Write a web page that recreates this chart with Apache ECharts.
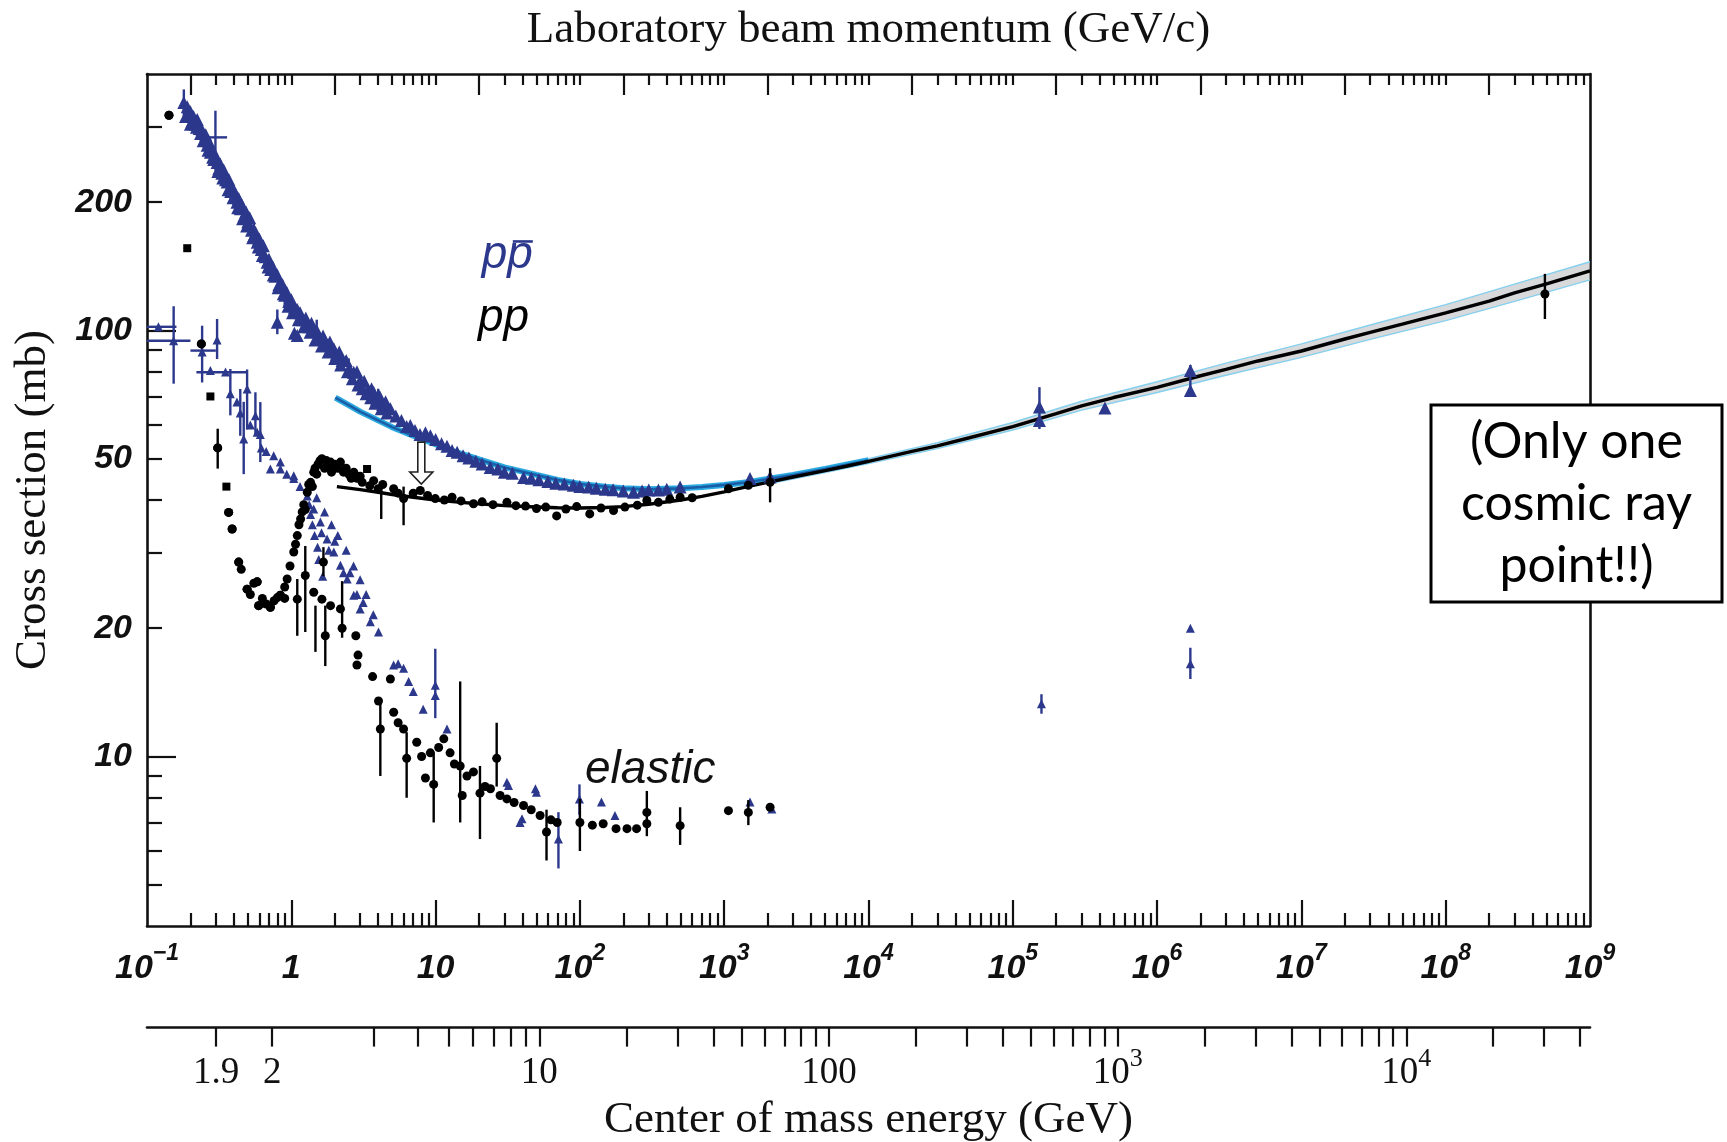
<!DOCTYPE html>
<html><head><meta charset="utf-8">
<script src="https://cdn.jsdelivr.net/npm/echarts@6/dist/echarts.min.js"></script>
<style>html,body{margin:0;padding:0;background:#fff}#chart{width:1727px;height:1142px}</style>
</head><body><div id="chart"></div>
<script>
// ---------------- DATA (p_lab in GeV/c, sigma in mb) ----------------
const ppbarTotal = [
 [0.18,343],[0.19,335],[0.195,320],[0.2,326],[0.205,310],[0.21,318],[0.215,305],[0.223,313],[0.23,298],[0.235,290],
 [0.24,296],[0.25,282],[0.255,288],[0.261,272],[0.268,278],[0.275,262],[0.283,266],[0.29,252],[0.298,258],[0.306,248],
 [0.315,240],[0.322,246],[0.33,234],[0.34,238],[0.35,226],[0.359,223],[0.37,226],[0.38,212],[0.39,216],[0.4,206],
 [0.41,210],[0.42,200],[0.432,204],[0.444,193],[0.455,197],[0.47,186],[0.485,190],[0.5,180],[0.515,184],[0.53,172],
 [0.55,167],[0.565,170],[0.58,161],[0.6,164],[0.62,155],[0.64,158],[0.66,149],[0.68,144.5],[0.7,147],[0.72,139],
 [0.745,141],[0.77,134],[0.8,135],[0.82,128],[0.84,127],[0.87,128],[0.9,121],[0.93,123],[0.96,117],[1.0,118],
 [1.05,113],[1.1,112],[1.15,110],[1.2,106],[1.26,107],[1.32,102],[1.38,104],[1.43,100.8],[1.5,100],[1.58,96],
 [1.66,97],[1.75,93],[1.85,94],[1.97,90.6],[2.05,88],[2.15,89],[2.25,85],[2.4,85],[2.55,81],[2.71,79.8],
 [2.85,80],[3.0,76],[3.2,76],[3.4,72.5],[3.6,73],[3.72,71.6],[3.9,69],[4.1,70],[4.3,67],[4.5,68],[4.86,65.5],
 [0.185,318],[0.2,305],[0.22,300],[0.245,279],[0.265,265],[0.285,255],[0.31,236],[0.335,228],[0.365,214],[0.395,205],
 [0.425,194],[0.46,183],[0.49,176],[0.54,165],[0.59,157],[0.63,150],[0.69,141],[0.75,135],[0.81,126],[0.88,122],
 [0.95,114],[1.02,110],[1.12,106],[1.22,102],[1.35,99],[1.46,95],[1.62,92],[1.8,89],[2.0,86],[2.2,83],
 [2.45,80],[2.65,77],[2.9,74.5],[3.1,73],[3.3,71],[3.55,69.5],[3.8,67.5],[4.2,65.5],[4.6,64],
 [5.3,63],[5.8,61.5],[6.3,59.5],[6.68,59.8],[7.2,58.2],[7.8,57],[8.5,57.5],[9.2,56.6],[10,55.5],[11,54.2],
 [12,53.5],[13,52.3],[14.1,51.8],[15.5,50.8],[17,50.2],[19,49.3],[21,48.6],[23.9,47.7],[27,47.3],[30,46.5],
 [34,46.2],[40.7,45.2],[46,45],[52,44.6],[60,44.2],[68,43.8],[78,43.6],[90,43.3],[100,43],[115,42.9],
 [130,42.6],[150,42.4],[170,42.3],[200,42],[235,41.7],[270,42],[300,42.2],[350,42.2],[400,42.4],[495,42.9],
 [1510,44.9],[2080,45.3],
 [0.8,104.5],[1.05,98.5],[1.1,97.3],
 [1.53e5,66.1],[1.53e5,61.5],[4.35e5,65.8],[1.7e6,80.5],[1.7e6,72.3]
];
const ppbarTotalErr = [[0.18,313,368],[0.298,248,328],[0.26,255,290],[0.4,195,218],[0.55,158,178],[0.9,114,128],
 [1.5,94,106],[2.5,77,86],[4.0,65,73],[0.8,98,112],[1.53e5,58.7,73.6],[1.7e6,70,83]];
const ppbarTotalXErr = [[0.254,0.359,284]];

const ppTotal = [
 [0.142,320],[0.238,93],[0.309,53],[0.368,37.4],[0.389,34.2],[0.432,28.6],[0.45,27.5],[0.494,24.7],[0.52,24],
 [0.55,25.5],[0.58,25.7],[0.594,22.6],[0.63,23.5],[0.67,22.8],[0.716,22.4],[0.76,23.2],[0.8,23.6],[0.84,23.9],
 [0.9,25],[0.936,26.1],[0.98,28],[1.04,30.2],[1.1,33],[1.16,36.1],[1.22,39],[1.25,38],[1.29,41.7],[1.36,44],
 [1.4,43],[1.43,46.5],[1.5,46],[1.53,48.5],[1.63,50],[1.7,47.5],[1.75,49.5],[1.87,49.1],[1.9,46.5],[2.0,48.5],
 [2.19,49.1],[2.3,46.5],[2.4,47.5],[2.6,45],[2.71,46.5],[3.0,45.5],[3.1,44],[3.5,43.2],[3.72,44.4],[4.0,42.5],
 [1.07,31.5],[1.13,35],[1.19,37.5],[1.32,43.5],[1.46,47.5],[1.58,49.5],[1.8,48],[2.1,47.5],[2.5,46],[2.85,45],
 [4.3,43.5],[5.12,42.5],[5.5,41.5],[6.0,40.3],[7.0,41.5],[7.83,42.1],[8.8,41],[9.95,40.3],[11.5,40],[13,40.6],
 [15,39.8],[18.3,39.2],[21,39.6],[25,39],[31.2,39.5],[36,38.8],[42,38.7],[50,38.2],[58,38.5],[69,36.7],
 [80,38.1],[95,38.6],[117,37.1],[140,38.3],[171,37.8],[205,38.5],[250,38.9],[291,39.9],[350,39.5],[420,40.2],
 [495,40.6],[600,40.5],[1070,42.5],[1470,43.3],[2080,44],
 [4.87e8,121.8]
];
const ppTotalSquares = [[0.19,156],[0.275,70],[0.355,43],[3.35,47.3]];
const ppTotalErr = [[0.309,47.4,58.8],[4.2,36.1,43.3],[6.0,34.9,43],[2080,39.5,47.5],[4.87e8,106.4,135.8]];

const ppbarElastic = [
 [0.12,102],[0.153,94.6],[0.241,89],[0.275,80.5],[0.306,95],[0.35,79.9],[0.378,71],[0.42,67.9],[0.443,64],[0.468,55.6],
 [0.494,72.9],[0.52,60],[0.564,63.1],[0.58,57.7],[0.61,57],[0.62,53],[0.67,52],[0.716,47.3],[0.755,50.8],[0.84,49.1],
 [0.84,47.3],[0.93,46],[1.04,45.6],[1.04,44.9],[1.15,43],[1.29,40.9],[1.36,37],[1.43,38.1],[1.45,33],[1.5,40.5],
 [1.55,29],[1.59,35.5],[1.65,26.5],[1.7,37.5],[1.77,32.4],[1.9,35],[1.97,30.2],[2.1,33],[2.19,28.1],[2.4,30.5],
 [2.44,26.1],[2.7,28],[2.71,23.9],[3.0,26],[3.0,22.2],[3.3,24],[3.53,20.7],[4.02,19.6],
 [1.33,39],[1.4,35],[1.52,31],[1.62,33.5],[1.82,30.5],[2.0,32],[2.3,27],[2.55,27],[2.85,24],[3.15,23],[3.7,21.5],
 [5.12,16.4],[5.5,16.5],[6.0,16.1],[6.5,15],[7.0,14.2],[8.2,12.9],[9.95,14.7],[9.95,13.9],[12.0,11.6],
 [31.2,8.7],[32,8.55],[38.5,7.0],[39.7,7.14],[49.2,8.4],[50,8.24],[71,6.4],[99.3,7.95],[141,7.82],[175,7.27],
 [1510,7.82],[2140,7.53],
 [1.58e5,13.3],[1.7e6,20],[1.7e6,16.5]
];
const ppbarElasticErr = [[0.153,75,114],[0.241,75.5,102.6],[0.306,85.7,106.4],[0.378,63.2,81.2],[0.443,56.6,72.9],
 [0.494,58.6,81],[0.468,46,68],[0.564,56.6,71.6],[0.61,49.1,67.9],[9.95,12.3,17.9],
 [71,5.46,7.4],[99.3,7.3,8.6],[1.58e5,12.6,14.0],[1.7e6,15.2,18]];
const ppbarElasticXErr = [[0.1,0.16,102],[0.1,0.2,94.6],[0.2,0.3,89.7],[0.22,0.49,79.8]];

const ppElastic = [
 [0.142,320],[0.238,93],[0.309,53],[0.368,37.4],[0.389,34.2],[0.432,28.6],[0.494,24.7],[0.58,25.7],[0.594,22.6],
 [0.716,22.4],[0.84,23.9],[0.9,23.5],[1.1,23.4],[1.25,26.6],[1.43,24.3],[1.63,23.4],[1.67,28.6],[1.72,19.2],
 [1.87,22.6],[2.19,22.2],[2.25,20],[2.8,19.2],[2.9,17.3],[2.85,16.4],[3.66,15.4],[4.02,13.5],[4.14,11.6],[4.86,15.2],
 [5.12,12.7],[5.5,12.0],[6.0,11.6],[6.3,9.9],[7.4,10.8],[8.0,10.0],[8.5,8.9],[9.2,10.2],[9.7,8.6],[10.5,10.5],
 [11.4,11.0],[12.6,10.2],[13.5,9.6],[14.8,9.5],[15.3,8.1],[16.5,9.0],[18.3,9.2],[20.3,8.2],[22,8.5],[24,8.4],
 [26.5,9.9],[28,8.1],[31.2,7.95],[35,7.8],[40.7,7.67],[46,7.5],[53,7.27],[58.7,6.65],[63,7.1],[69.6,7.0],
 [100,7.0],[122,6.9],[145,6.95],[178,6.77],[212,6.77],[247,6.77],[291,7.39],[291,6.95],[495,6.88],[1070,7.46],
 [1470,7.39],[2080,7.6]
];
const ppElasticErr = [[1.1,19.2,26.1],[1.25,19.6,31.2],[1.47,17.6,22.6],[1.67,26.5,31],[1.72,16.3,22.6],[2.25,19,25.8],
 [4.14,9.0,13.4],[6.3,8.0,11.4],[9.7,7.0,10.2],[14.8,7.0,15.0],[20.3,6.4,9.5],[26.5,8.5,12],[58.7,5.7,7.5],
 [100,6.0,7.95],[291,6.5,8.3],[495,6.2,7.6],[1470,6.9,7.9]];

const ppFit = [[2.07,43.0],[3,42.3],[4,41.7],[5,41.2],[7,40.6],[10,40.0],[15,39.5],[20,39.2],[30,38.8],[50,38.5],
 [70,38.35],[100,38.3],[150,38.4],[200,38.6],[300,39.1],[500,40.0],[700,40.8],[1000,41.8],[1500,43.1],[2000,44.0],
 [3000,45.3],[5000,46.9],[7000,48.0],[1e4,49.3],[2e4,52.0],[3e4,53.6],[5e4,56.0],[1e5,59.5],[2e5,63.8],[3e5,66.5],
 [5e5,69.6],[1e6,73.5],[2e6,78.3],[3e6,81.0],[5e6,84.8],[1e7,89.5],[2e7,95.5],[3e7,99.0],[5e7,103.5],[1e8,110.0],
 [2e8,117.2],[3e8,122.5],[5e8,128.6],[1e9,138.0]];
const ppbarFit = [[2.02,69.6],[2.5,66.8],[3,64.5],[4,61.5],[5,59.3],[7,56.6],[9.2,54.7],[13,52.2],[20,49.8],[30,47.7],
 [50,45.8],[70,44.6],[100,43.6],[150,43.0],[200,42.6],[300,42.4],[500,42.6],[700,42.9],[1000,43.4],[1500,44.1],
 [2000,44.8],[3000,45.8],[5000,47.3],[7000,48.4],[1e4,49.6]];
const fitBand = [[2000,43.6,44.6],[5000,46.4,47.5],[1e4,48.7,50.0],[3e4,52.8,54.5],[1e5,58.4,60.8],[3e5,65.0,68.2],
 [1e6,71.5,75.8],[3e6,78.5,83.8],[1e7,86.5,93.0],[3e7,95.3,103.0],[1e8,105.5,115.0],[3e8,117,128.5],[1e9,131.5,145]];

// ---------------- AXIS TICKS / LABELS ----------------
const xLabelExponents = [-1,0,1,2,3,4,5,6,7,8,9];
const xMinorMultipliers = [2,3,4,5,6,7,8,9];
const topMajorValues = [0.2,2,20,200,2e3,2e4,2e5,2e6,2e7,2e8];
const topMinorMultipliers = [3,4,5,6,7,8,9,10];
const yLabelValues = [10,20,50,100,200];
const yMajorTicks = [10,100];
const yMinorTicks = [5,6,7,8,9,20,30,40,50,60,70,80,90,200,300];
const cmsTickValues = [1.9,2,3,4,5,6,7,8,9,10,20,30,40,50,60,70,80,90,100,200,300,400,500,600,700,800,900,1000,
 2000,3000,4000,5000,6000,7000,8000,9000,10000,20000,30000,40000];
const cmsLabelValues = [1.9,2,10,100,1000,10000];

// annotation anchors (data space)
const labelPbarAnchor = [31.4,150];
const labelPpAnchor = [29.6,106.8];
const labelElasticAnchor = [307,9.3];
const arrowTipAnchor = [7.96,43.6];
const arrowTopAnchor = [7.96,54.7];

// ---------------- HELPERS ----------------
const M_P = 0.938272;
function pFromSqrtS(w){ const s=w*w; const E=(s-2*M_P*M_P)/(2*M_P); return Math.sqrt(E*E-M_P*M_P); }
function sqrtSFromP(p){ const E=Math.sqrt(p*p+M_P*M_P); return Math.sqrt(2*M_P*M_P+2*M_P*E); }
const X_MIN=0.1, X_MAX=1e9;
const xMajorTickVals = xLabelExponents.filter(e=>e>-1&&e<9).map(e=>Math.pow(10,e));
const xLabelVals = xLabelExponents.map(e=> e===-1 ? X_MIN*1.000001 : (e===9 ? X_MAX*0.999999 : Math.pow(10,e)));
const xMinorTickVals = [];
for (let e=-1;e<9;e++) xMinorMultipliers.forEach(k=>xMinorTickVals.push(k*Math.pow(10,e)));
const topMinorVals = [];
for (let e=-1;e<9;e++) topMinorMultipliers.forEach(k=>{const v=k*Math.pow(10,e); if(v<X_MAX*0.9999) topMinorVals.push(v);});
const cmsTickP = cmsTickValues.map(pFromSqrtS);
const cmsLabelP = cmsLabelValues.map(pFromSqrtS);

const BLUE='#2b388c', BLACK='#111';
const SANS='"Liberation Sans", Arial, sans-serif';
const SERIF='"Liberation Serif", "Times New Roman", serif';

function vErr(color){ return function(params, api){
  const a=api.coord([api.value(0),api.value(1)]), b=api.coord([api.value(0),api.value(2)]);
  return {type:'line',shape:{x1:a[0],y1:a[1],x2:b[0],y2:b[1]},style:{stroke:color,lineWidth:2.4}};
};}
function hErr(color){ return function(params, api){
  const a=api.coord([api.value(0),api.value(2)]), b=api.coord([api.value(1),api.value(2)]);
  return {type:'line',shape:{x1:a[0],y1:a[1],x2:b[0],y2:b[1]},style:{stroke:color,lineWidth:2.4}};
};}
function bandRender(params, api){
  if (params.dataIndex !== 0) return null;
  const upper = fitBand.map(d=>api.coord([d[0],d[2]]));
  const lower = fitBand.map(d=>api.coord([d[0],d[1]])).reverse();
  return {type:'polygon',shape:{points:upper.concat(lower)},style:{fill:'rgba(188,192,195,0.6)'}};
}

const chart = echarts.init(document.getElementById('chart'), null, {renderer:'canvas'});
const baseX = {type:'log', logBase:10, min:X_MIN, max:X_MAX, gridIndex:0, splitLine:{show:false}, minorTick:{show:false}, nameMoveOverlap:false};
const baseY = {type:'log', logBase:10, min:4, max:400, gridIndex:0, splitLine:{show:false}, minorTick:{show:false}, nameMoveOverlap:false};
const lineCommon = {symbol:'none', smooth:false, silent:true};

const option = {
  animation:false,
  backgroundColor:'#fff',
  grid:[{left:147, right:137, top:74, height:852, containLabel:false, outerBoundsMode:'none'}],
  xAxis:[
    Object.assign({}, baseX, {position:'bottom',
      axisLine:{show:true,lineStyle:{color:BLACK,width:2.6}},
      axisTick:{show:true,inside:true,length:26,lineStyle:{color:BLACK,width:2.2},customValues:xMajorTickVals},
      axisLabel:{show:true,margin:16,customValues:xLabelVals,
        formatter:function(v){const e=Math.round(Math.log10(v)); if(e===0) return '{b|1}'; if(e===1) return '{b|10}'; return '{b|10}{s|'+(e<0?'\u22121':e)+'}';},
        rich:{b:{fontFamily:SANS,fontWeight:'bold',fontStyle:'italic',fontSize:34,color:BLACK,lineHeight:53},
              s:{fontFamily:SANS,fontWeight:'bold',fontStyle:'italic',fontSize:23,color:BLACK,lineHeight:20,verticalAlign:'top'}}}}),
    Object.assign({}, baseX, {position:'bottom',
      axisLine:{show:false},axisLabel:{show:false},
      axisTick:{show:true,inside:true,length:13,lineStyle:{color:BLACK,width:2.2},customValues:xMinorTickVals}}),
    Object.assign({}, baseX, {position:'top',
      axisLine:{show:true,lineStyle:{color:BLACK,width:2.6}},axisLabel:{show:false},
      axisTick:{show:true,inside:true,length:21,lineStyle:{color:BLACK,width:2.2},customValues:topMajorValues},
      name:'Laboratory beam momentum (GeV/c)',nameLocation:'middle',nameGap:21,
      nameTextStyle:{fontFamily:SERIF,fontSize:45,color:BLACK}}),
    Object.assign({}, baseX, {position:'top',
      axisLine:{show:false},axisLabel:{show:false},
      axisTick:{show:true,inside:true,length:11,lineStyle:{color:BLACK,width:2.2},customValues:topMinorVals}}),
    Object.assign({}, baseX, {position:'bottom',offset:101.6,
      axisLine:{show:true,lineStyle:{color:BLACK,width:2.6}},
      axisTick:{show:true,inside:false,length:19,lineStyle:{color:BLACK,width:2.2},customValues:cmsTickP},
      axisLabel:{show:true,margin:19,customValues:cmsLabelP,
        formatter:function(p){const w=sqrtSFromP(p); let best=cmsLabelValues[0],bd=1e9;
          cmsLabelValues.forEach(l=>{const d=Math.abs(Math.log(w/l)); if(d<bd){bd=d;best=l;}});
          if(best===1000) return '{n|10}{s|3}'; if(best===10000) return '{n|10}{s|4}'; return '{n|'+best+'}';},
        rich:{n:{fontFamily:SERIF,fontSize:37,color:BLACK,lineHeight:54},
              s:{fontFamily:SERIF,fontSize:26,color:BLACK,lineHeight:26,verticalAlign:'top'}}},
      name:'Center of mass energy (GeV)',nameLocation:'middle',nameGap:70,
      nameTextStyle:{fontFamily:SERIF,fontSize:45,color:BLACK}})
  ],
  yAxis:[
    Object.assign({}, baseY, {position:'left',
      axisLine:{show:true,lineStyle:{color:BLACK,width:2.6}},
      axisTick:{show:true,inside:true,length:29,lineStyle:{color:BLACK,width:2.2},customValues:yMajorTicks},
      axisLabel:{show:true,margin:15,customValues:yLabelValues,formatter:v=>String(Math.round(v)),
        fontFamily:SANS,fontWeight:'bold',fontStyle:'italic',fontSize:34,color:BLACK},
      name:'Cross section (mb)',nameLocation:'middle',nameGap:91,
      nameTextStyle:{fontFamily:SERIF,fontSize:45,color:BLACK}}),
    Object.assign({}, baseY, {position:'left',
      axisLine:{show:false},axisLabel:{show:false},
      axisTick:{show:true,inside:true,length:15,lineStyle:{color:BLACK,width:2.2},customValues:yMinorTicks}}),
    Object.assign({}, baseY, {position:'right',
      axisLine:{show:true,lineStyle:{color:BLACK,width:2.6}},axisLabel:{show:false},axisTick:{show:false}})
  ],
  series:[
    {type:'custom',name:'band',data:fitBand,encode:{x:0,y:[1,2]},renderItem:bandRender,z:1,silent:true},
    Object.assign({type:'line',name:'bandLo',data:fitBand.map(d=>[d[0],d[1]]),lineStyle:{color:'#86d0ef',width:1.4},z:1}, lineCommon),
    Object.assign({type:'line',name:'bandHi',data:fitBand.map(d=>[d[0],d[2]]),lineStyle:{color:'#86d0ef',width:1.4},z:1}, lineCommon),
    Object.assign({type:'line',name:'ppbarFitGlow',data:ppbarFit,lineStyle:{color:'#2aa9e0',width:6},z:2}, lineCommon),
    Object.assign({type:'line',name:'ppbarFit',data:ppbarFit,lineStyle:{color:'#1a5ea8',width:2.6},z:2}, lineCommon),
    Object.assign({type:'line',name:'ppFit',data:ppFit,lineStyle:{color:'#000',width:3.4},z:3}, lineCommon),
    {type:'custom',name:'ppbarTotalErr',data:ppbarTotalErr,encode:{x:0,y:[1,2]},renderItem:vErr(BLUE),z:4,silent:true},
    {type:'custom',name:'ppbarTotalXErr',data:ppbarTotalXErr,encode:{x:[0,1],y:2},renderItem:hErr(BLUE),z:4,silent:true},
    {type:'custom',name:'ppbarElasticErr',data:ppbarElasticErr,encode:{x:0,y:[1,2]},renderItem:vErr(BLUE),z:4,silent:true},
    {type:'custom',name:'ppbarElasticXErr',data:ppbarElasticXErr,encode:{x:[0,1],y:2},renderItem:hErr(BLUE),z:4,silent:true},
    {type:'scatter',name:'ppbarTotal',data:ppbarTotal,symbol:'triangle',symbolSize:13,itemStyle:{color:BLUE,opacity:1},z:5,silent:true},
    {type:'scatter',name:'ppbarElastic',data:ppbarElastic,symbol:'triangle',symbolSize:9,itemStyle:{color:BLUE,opacity:1},z:5,silent:true},
    {type:'custom',name:'ppTotalErr',data:ppTotalErr,encode:{x:0,y:[1,2]},renderItem:vErr('#000'),z:6,silent:true},
    {type:'custom',name:'ppElasticErr',data:ppElasticErr,encode:{x:0,y:[1,2]},renderItem:vErr('#000'),z:6,silent:true},
    {type:'scatter',name:'ppTotal',data:ppTotal,symbol:'circle',symbolSize:9,itemStyle:{color:'#000',opacity:1},z:7,silent:true},
    {type:'scatter',name:'ppTotalSq',data:ppTotalSquares,symbol:'rect',symbolSize:8,itemStyle:{color:'#000',opacity:1},z:7,silent:true},
    {type:'scatter',name:'ppElastic',data:ppElastic,symbol:'circle',symbolSize:9,itemStyle:{color:'#000',opacity:1},z:7,silent:true}
  ]
};
chart.setOption(option);

// ---------------- ANNOTATIONS ----------------
const toPx = d => chart.convertToPixel({xAxisIndex:0,yAxisIndex:0}, d);
const pbPx = toPx(labelPbarAnchor), ppPx = toPx(labelPpAnchor), elPx = toPx(labelElasticAnchor);
const tipPx = toPx(arrowTipAnchor), arrowTopPx = toPx(arrowTopAnchor);
const ITF = 'italic 46px "Liberation Sans", Arial, sans-serif';
const hx = tipPx[0];
chart.setOption({graphic:[
  {type:'text',z:50,style:{text:'pp',x:pbPx[0],y:pbPx[1],font:ITF,fill:BLUE,align:'center',verticalAlign:'middle'}},
  {type:'line',z:50,shape:{x1:pbPx[0]+5.5,y1:pbPx[1]-14,x2:pbPx[0]+25.5,y2:pbPx[1]-14},style:{stroke:BLUE,lineWidth:2.6}},
  {type:'text',z:50,style:{text:'pp',x:ppPx[0],y:ppPx[1],font:ITF,fill:'#000',align:'center',verticalAlign:'middle'}},
  {type:'text',z:50,style:{text:'elastic',x:elPx[0],y:elPx[1],font:ITF,fill:'#111',align:'center',verticalAlign:'middle'}},
  {type:'polygon',z:50,shape:{points:[[hx-3.5,arrowTopPx[1]],[hx+3.5,arrowTopPx[1]],[hx+3.5,tipPx[1]-12],[hx+11.5,tipPx[1]-12],[hx,tipPx[1]],
     [hx-11.5,tipPx[1]-12],[hx-3.5,tipPx[1]-12]]},style:{fill:'#fff',stroke:'#222',lineWidth:1.6}},
  {type:'rect',z:60,shape:{x:1431,y:405,width:291,height:197},style:{fill:'#fff',stroke:'#000',lineWidth:3}},
  {type:'text',z:61,style:{text:'(Only one\ncosmic ray\npoint!!)',x:1576.5,y:503.5,align:'center',verticalAlign:'middle',
     font:'50px Lato, "Open Sans", sans-serif',lineHeight:62,fill:'#000'}}
]});
</script></body></html>
